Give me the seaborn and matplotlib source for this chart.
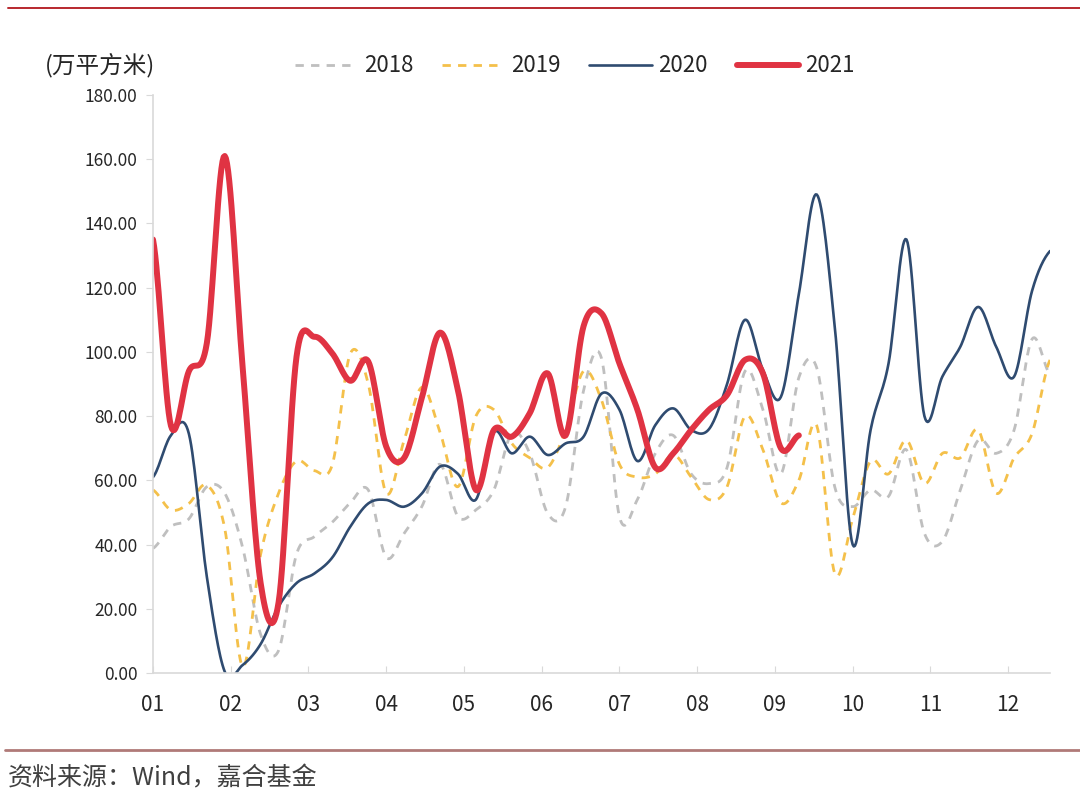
import numpy as np
import pandas as pd
import seaborn as sns
import matplotlib.pyplot as plt
from matplotlib.lines import Line2D

# weekly values (万平方米), week 0 = first week of Jan
y2018 = [38.8, 45.6, 48, 58, 56, 39, 12, 7, 37, 42.5,
         47, 53, 57, 36, 43.5, 52, 65, 48.7, 50.8, 57,
         74.6, 68.4, 49.7, 51.8, 88, 98, 48.7, 54, 68.4, 74,
         62, 59, 64, 94, 82, 62, 92, 95, 58, 51.8,
         57, 55, 69.5, 43.5, 41, 57, 72.5, 68.4, 75.7, 104, 93]
y2019 = [57, 50.8, 52.8, 58.5, 45, 2, 37, 56, 66, 63,
         65, 99.5, 90, 56, 72.5, 89, 75, 58, 80, 82,
         71.5, 67, 64, 75.7, 94, 85, 65, 61, 62, 68,
         61, 54, 58, 80, 69.5, 53, 60, 77, 31, 48,
         66, 62, 72.5, 59, 68.4, 67, 75.7, 56, 67, 74.6, 97.5]
y2020 = [61, 74, 74.5, 30, 0.4, 2.5, 9, 20.7, 28, 31,
         36, 45.6, 52.8, 53.9, 51.8, 56, 64.3, 62, 54, 75,
         68.4, 73.6, 67.9, 71.5, 73.6, 87, 82, 66, 77.2, 82.4,
         75.7, 76, 90, 110, 94.4, 86, 118, 149, 108, 40,
         75.7, 96.4, 135, 80, 92.3, 101.6, 114, 101.6, 92.3, 119, 131.4]
y2021 = [135, 77, 94, 102.7, 161, 95, 28, 22, 98.5, 104.7,
         99.5, 91, 97, 70.5, 67, 86, 106, 88, 57, 75.7,
         73.6, 80.9, 93.3, 74, 108, 112, 96.4, 82, 64, 68.4,
         75.7, 82, 86.6, 97.5, 93.3, 70, 74]

years = ['2018', '2019', '2020', '2021']
series = [y2018, y2019, y2020, y2021]
month_labels = ['01', '02', '03', '04', '05', '06', '07', '08', '09', '10', '11', '12']

colors = {'2018': '#BFBFBF', '2019': '#F4C04A', '2020': '#2F4B70', '2021': '#E03343'}
widths = {'2018': 2.0, '2019': 2.0, '2020': 1.9, '2021': 4.3}
styles = {'2018': (0, (3, 2.6)), '2019': (0, (3, 2.6)), '2020': '-', '2021': '-'}


def smooth(values, n=16):
    # Catmull-Rom through the weekly points, like Excel's "smoothed line"
    v = np.asarray(values, float)
    p = np.concatenate([[v[0]], v, [v[-1]]])
    xs, ys = [], []
    t = np.linspace(0, 1, n, endpoint=False)
    for i in range(len(v) - 1):
        p0, p1, p2, p3 = p[i], p[i + 1], p[i + 2], p[i + 3]
        y = 0.5 * (2 * p1 + (-p0 + p2) * t + (2 * p0 - 5 * p1 + 4 * p2 - p3) * t ** 2
                   + (-p0 + 3 * p1 - 3 * p2 + p3) * t ** 3)
        xs.append(i + t)
        ys.append(y)
    xs.append([len(v) - 1])
    ys.append([v[-1]])
    return np.concatenate(xs), np.concatenate(ys)


frames = []
for yr, vals in zip(years, series):
    sx, sy = smooth(vals)
    frames.append(pd.DataFrame({'week': sx, 'value': sy, 'year': yr}))
df = pd.concat(frames, ignore_index=True)

sns.set_style('white')
plt.rcParams['font.family'] = ['Noto Sans CJK SC', 'DejaVu Sans']

fig = plt.figure(figsize=(10.8, 7.99), dpi=100)
ax = fig.add_axes([153 / 1080, 1 - 673 / 799, (1050 - 153) / 1080, (673 - 95) / 799])

for yr in years:
    sub = df[df['year'] == yr]
    sns.lineplot(data=sub, x='week', y='value', ax=ax, color=colors[yr],
                 linewidth=widths[yr], linestyle=styles[yr],
                 estimator=None, sort=False, legend=False)

ax.set_xlim(0, 50)
ax.set_ylim(0, 180)
ax.set_xticks([m * 52 / 12 for m in range(12)])
ax.set_xticklabels(month_labels)
ax.set_yticks(np.arange(0, 181, 20))
ax.set_yticklabels([f'{v:.2f}' for v in np.arange(0, 181, 20)])
ax.set_xlabel('')
ax.set_ylabel('')

for s in ['top', 'right']:
    ax.spines[s].set_visible(False)
for s in ['left', 'bottom']:
    ax.spines[s].set_color('#D9D9D9')
    ax.spines[s].set_linewidth(1.2)

ax.tick_params(axis='x', direction='in', length=5, color='#D9D9D9', pad=15,
               labelsize=15, labelcolor='#262626')
ax.tick_params(axis='y', direction='out', length=5, color='#D9D9D9', pad=6,
               labelsize=12.5, labelcolor='#262626')
ax.tick_params(axis='x', which='major', bottom=True)
ax.tick_params(axis='y', which='major', left=True)

handles = [Line2D([], [], color=colors[yr], linewidth=widths[yr], linestyle=styles[yr])
           for yr in years]
fig.legend(handles, years, loc='center', bbox_to_anchor=(575 / 1080, 1 - 66 / 799),
           ncol=4, frameon=False, fontsize=16, handlelength=2.8,
           columnspacing=1.3, handletextpad=0.3, labelcolor='#262626')

fig.text(45 / 1080, 1 - 65 / 799, '(万平方米)', fontsize=17, color='#262626',
         ha='left', va='center')

# report frame lines and source note
fig.add_artist(Line2D([8 / 1080, 1], [1 - 8 / 799, 1 - 8 / 799], color='#B8282E', linewidth=1.4))
fig.add_artist(Line2D([5 / 1080, 1], [1 - 750 / 799, 1 - 750 / 799], color='#B07A78', linewidth=2.0))
fig.text(8 / 1080, 1 - 778 / 799, '资料来源：Wind，嘉合基金', fontsize=18,
         color='#404040', ha='left', va='center')

fig.savefig('out.png', dpi=100, facecolor='white')
